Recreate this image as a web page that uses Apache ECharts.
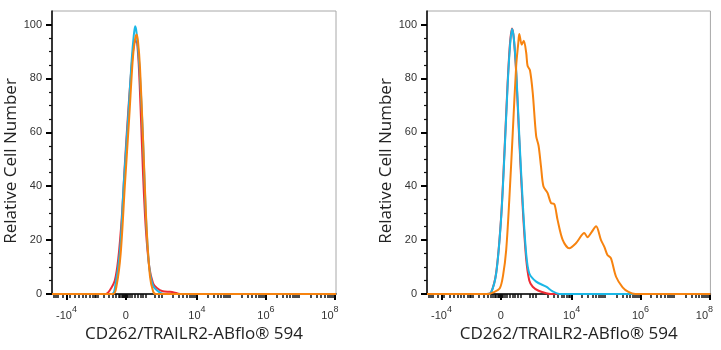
<!DOCTYPE html>
<html><head><meta charset="utf-8">
<script src="https://cdn.jsdelivr.net/npm/echarts@6/dist/echarts.min.js"></script>
<style>html,body{margin:0;padding:0;background:#fff}#c{width:721px;height:350px}</style>
</head><body><div id="c"></div>
<script>
// x values are in logicle display units (decades: 4 = 10^4, 6 = 10^6 ...)
const xTickPos = [0.22, 1.94, 4, 6, 8];
const xTickBase = ['-10', '0', '10', '10', '10'];
const xTickExp = ['4', '', '4', '6', '8'];
const xMinorLinear = [-0.15, -0.08, -0.02, 0.1, 0.3, 0.45, 0.58, 0.68, 0.78, 0.88, 0.97, 1.04, 1.08, 1.12,
  1.3, 1.45, 1.56, 1.65, 1.72, 1.77, 1.81, 1.85, 1.88, 1.91, 1.97, 2.0, 2.06, 2.12, 2.2, 2.28, 2.36, 2.44,
  2.52, 2.78, 2.88, 2.97];
const xMinorMult = [2, 3, 4, 5, 6, 7, 8, 9];
const xMinorDecades = [3, 4, 5, 6, 7];
const yTicks = [0, 20, 40, 60, 80, 100];
const yMinorTicks = [5, 10, 15, 25, 30, 35, 45, 50, 55, 65, 70, 75, 85, 90, 95];
const xTitle = 'CD262/TRAILR2-ABflo® 594';
const yTitle = 'Relative Cell Number';

const leftRed = [[-0.2,0],[1.36,0],[1.48,1.5],[1.62,5],[1.72,13],[1.82,28],[1.91,48],[2.01,68],[2.11,85],[2.18,93],[2.23,94],[2.30,88],[2.37,68],[2.44,44],[2.52,24],[2.62,10],[2.73,4],[2.84,2.2],[3.01,1],[3.22,0.8],[3.33,0.6],[3.51,0],[8.03,0]];
const leftCyan = [[-0.2,0],[1.53,0],[1.62,2],[1.77,16],[1.88,41],[2.01,66],[2.11,87],[2.17,96],[2.21,99.3],[2.25,97],[2.33,85],[2.43,60],[2.51,32],[2.61,11],[2.73,3],[2.93,0.5],[3.07,0],[8.03,0]];
const leftOrange = [[-0.2,0],[1.57,0],[1.67,3],[1.79,15],[1.91,40],[2.04,66],[2.14,87],[2.20,94],[2.25,96.3],[2.29,94],[2.35,84],[2.44,57],[2.54,25],[2.64,6.4],[2.73,1],[2.81,0],[8.03,0]];

const rightRed = [[-0.2,0],[1.54,0],[1.66,0.5],[1.81,8],[1.95,28],[2.05,53],[2.14,78],[2.21,93],[2.27,98.5],[2.32,95],[2.39,82],[2.48,57],[2.58,32],[2.68,13],[2.77,5],[2.87,2.7],[3.04,1.2],[3.26,0.3],[3.39,0],[8.03,0]];
const rightCyan = [[-0.2,0],[1.54,0],[1.66,0.5],[1.81,7.7],[1.95,27.6],[2.05,52],[2.14,77],[2.21,92],[2.27,98.3],[2.32,95],[2.39,83],[2.48,58.6],[2.58,34],[2.68,15],[2.77,7.7],[2.97,4.6],[3.26,2.7],[3.45,1],[3.64,0],[8.03,0]];
const rightOrange = [[-0.2,0],[1.59,0],[1.71,0.5],[1.91,2],[2.01,7],[2.10,16.4],[2.19,35],[2.29,59.8],[2.39,84.7],[2.45,93],[2.48,96.5],[2.55,92.5],[2.61,94],[2.68,89.6],[2.72,84.7],[2.79,83],[2.87,74.7],[2.97,58.6],[3.04,55],[3.11,47.4],[3.18,40],[3.30,37.5],[3.40,33.8],[3.50,33.3],[3.59,27.6],[3.74,20.1],[3.93,17],[4.13,18.9],[4.37,22.6],[4.46,21.1],[4.58,23],[4.71,25.1],[4.85,20.1],[4.95,17.5],[5.04,14.5],[5.14,13.3],[5.29,6.4],[5.48,2.5],[5.65,0.8],[5.85,0],[8.03,0]];

const colors = {red: '#ee2b33', cyan: '#1bb7e6', orange: '#f7830f'};
const X_MIN = -0.2, X_MAX = 8.03, Y_MIN = 0, Y_MAX = 105;

const xMinor = xMinorLinear.slice();
xMinorDecades.forEach(k => xMinorMult.forEach(m => xMinor.push(k + Math.log10(m))));

const labelFont = 'Liberation Sans, Arial, sans-serif';
const titleFont = 'Open Sans, Noto Sans, sans-serif';

function xLabelFmt(v) {
  let best = 0;
  xTickPos.forEach((p, i) => { if (Math.abs(p - v) < Math.abs(xTickPos[best] - v)) best = i; });
  const e = xTickExp[best];
  const pad = best === xTickPos.length - 1 ? '{r|}' : '';
  return '{b|' + xTickBase[best] + '}' + (e ? '{s|' + e + '}' : '') + pad;
}

const grids = [
  {left: 52, top: 11, width: 284, height: 283},
  {left: 427, top: 11, width: 284, height: 283}
];

const xAxes = [], yAxes = [];
grids.forEach((g, gi) => {
  xAxes.push({
    gridIndex: gi, type: 'value', position: 'bottom', min: X_MIN, max: X_MAX,
    name: xTitle, nameLocation: 'middle', nameGap: 32,
    nameTextStyle: {fontFamily: titleFont, fontSize: 17, color: '#222'},
    axisLine: {show: true, onZero: false, lineStyle: {color: '#000', width: 1.5}},
    axisTick: {show: true, length: 6, lineStyle: {color: '#000', width: 2}, customValues: xTickPos},
    axisLabel: {show: true, margin: 5, customValues: xTickPos, formatter: xLabelFmt,
      rich: {
        b: {fontFamily: labelFont, fontSize: 11, color: '#333', verticalAlign: 'bottom', lineHeight: 22},
        s: {fontFamily: labelFont, fontSize: 9, color: '#333', verticalAlign: 'bottom', lineHeight: 22, padding: [0, 0, 7, 0]},
        r: {width: 10}
      }},
    splitLine: {show: false}
  });
  xAxes.push({
    gridIndex: gi, type: 'value', position: 'bottom', min: X_MIN, max: X_MAX,
    axisLine: {show: false, onZero: false},
    axisTick: {show: true, length: 4, lineStyle: {color: '#111', width: 1.5}, customValues: xMinor},
    axisLabel: {show: false}, splitLine: {show: false}
  });
  yAxes.push({
    gridIndex: gi, type: 'value', position: 'left', min: Y_MIN, max: Y_MAX,
    name: yTitle, nameLocation: 'middle', nameGap: 27, nameRotate: 90,
    nameTextStyle: {fontFamily: titleFont, fontSize: 17, color: '#222', padding: [0, 17, 0, 0]},
    axisLine: {show: true, onZero: false, lineStyle: {color: '#000', width: 1.5}},
    axisTick: {show: true, length: 6, lineStyle: {color: '#000', width: 2}, customValues: yTicks},
    axisLabel: {show: true, margin: 10, customValues: yTicks, fontFamily: labelFont, fontSize: 11, color: '#333'},
    splitLine: {show: false}
  });
  yAxes.push({
    gridIndex: gi, type: 'value', position: 'left', min: Y_MIN, max: Y_MAX,
    axisLine: {show: false, onZero: false},
    axisTick: {show: true, length: 3, lineStyle: {color: '#111', width: 1.2}, customValues: yMinorTicks},
    axisLabel: {show: false}, splitLine: {show: false}
  });
});

function line(data, color, gi, z) {
  return {type: 'line', data: data, xAxisIndex: gi * 2, yAxisIndex: gi * 2, showSymbol: false,
    smooth: 0.3, z: z, lineStyle: {color: color, width: 2}, itemStyle: {color: color}, silent: true};
}

const chart = echarts.init(document.getElementById('c'), null, {renderer: 'canvas'});
chart.setOption({
  animation: false,
  backgroundColor: '#fff',
  grid: grids.map(g => Object.assign({show: true, borderColor: '#a8a8a8', borderWidth: 1, backgroundColor: 'transparent'}, g)),
  xAxis: xAxes,
  yAxis: yAxes,
  series: [
    line(leftRed, colors.red, 0, 2), line(leftCyan, colors.cyan, 0, 3), line(leftOrange, colors.orange, 0, 4),
    line(rightRed, colors.red, 1, 2), line(rightCyan, colors.cyan, 1, 3), line(rightOrange, colors.orange, 1, 4)
  ]
});
</script></body></html>
